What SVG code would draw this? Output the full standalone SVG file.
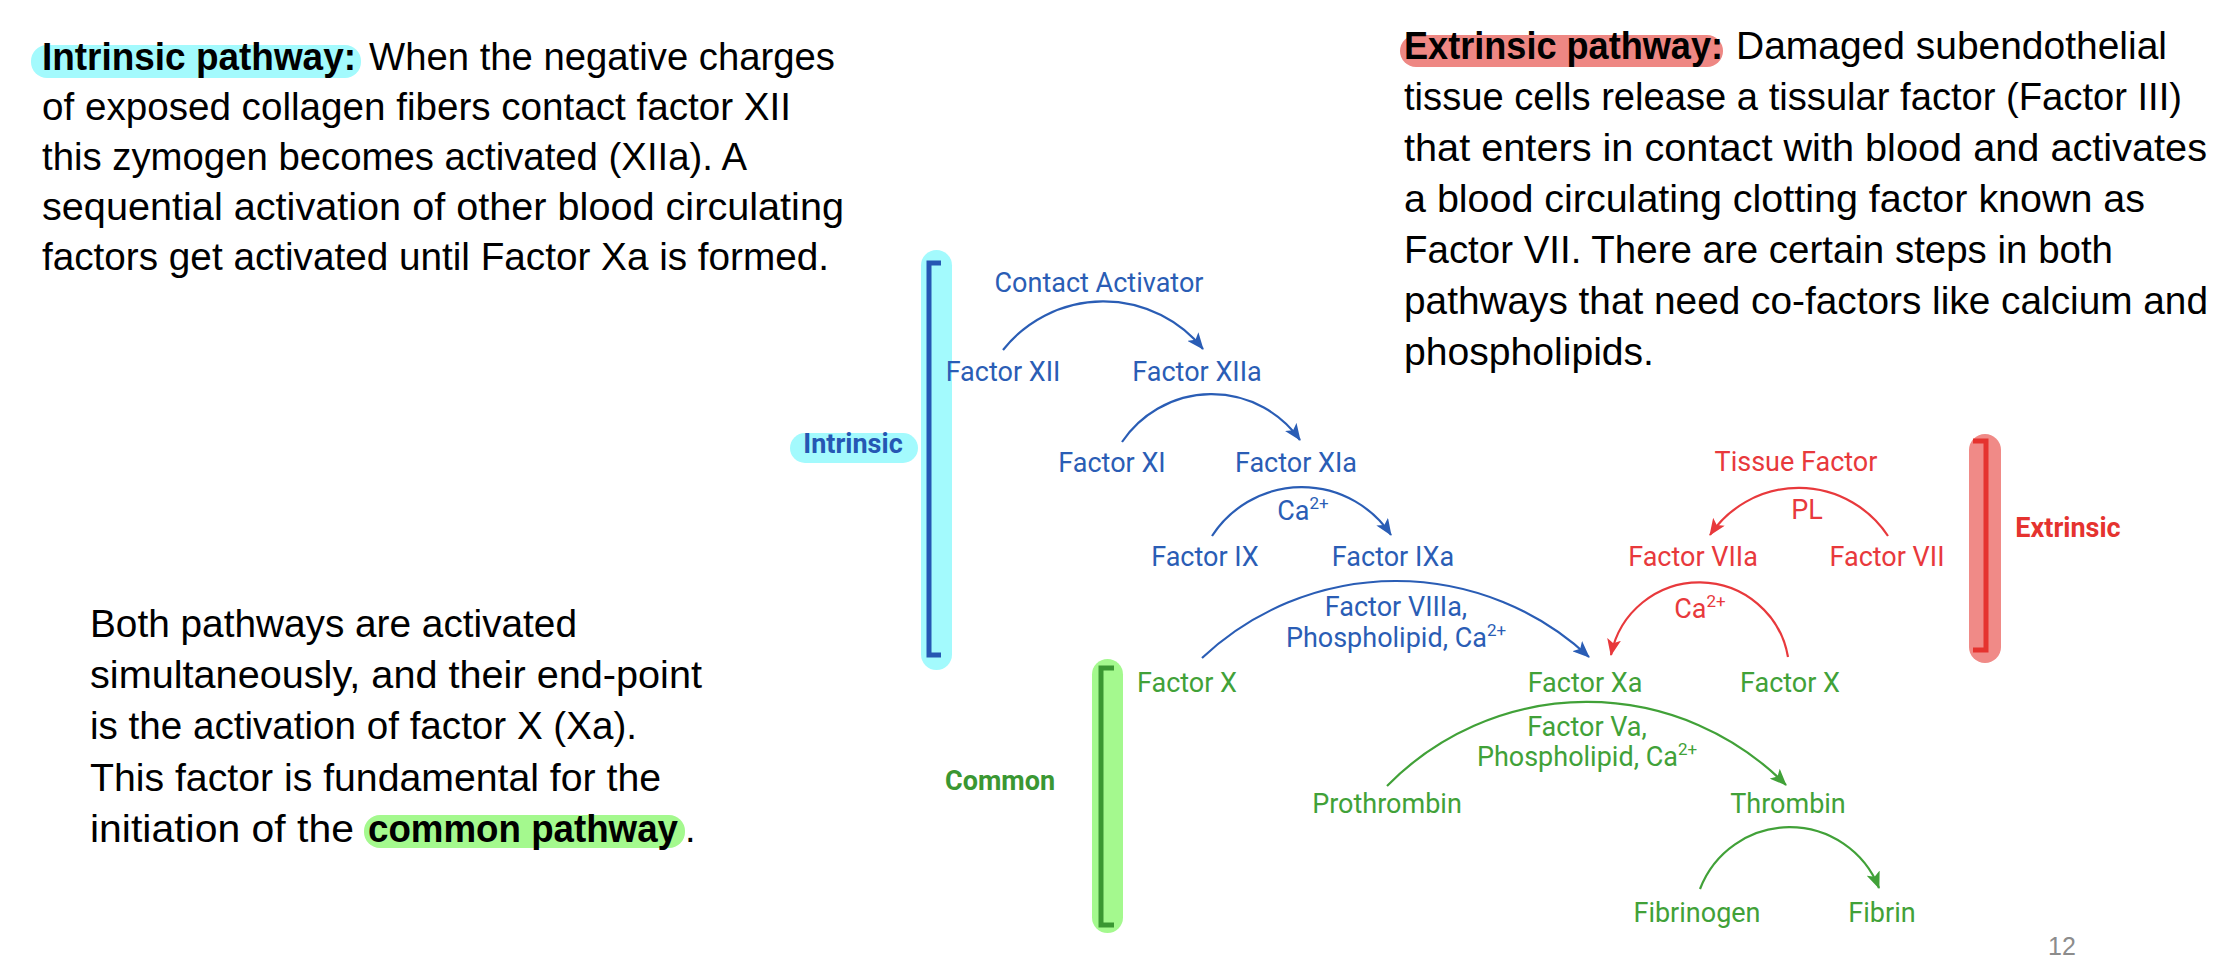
<svg xmlns="http://www.w3.org/2000/svg" width="2218" height="958" viewBox="0 0 2218 958">
<defs>
<style>
.body{font-family:"Liberation Sans",Arial,sans-serif;font-size:38px;fill:#000}
.b{font-weight:bold}
.lbl{font-family:Roboto,"Liberation Sans",sans-serif;font-size:27px;text-anchor:middle}
.bl{fill:#2A5DB5}.rd{fill:#E8393C}.gr{fill:#41A138}
.hd{font-weight:bold}
.arc{fill:none;stroke-width:2.2}
.arcB{stroke:#2A5DB5}.arcR{stroke:#E8393C}.arcG{stroke:#41A138}
.br{fill:none;stroke-width:5}
</style>
<marker id="mB" markerUnits="userSpaceOnUse" markerWidth="18" markerHeight="14" viewBox="0 0 18 14" refX="16" refY="7" orient="auto"><path d="M0,0 L17,7 L0,14 L4,7 z" fill="#2A5DB5"/></marker>
<marker id="mR" markerUnits="userSpaceOnUse" markerWidth="18" markerHeight="14" viewBox="0 0 18 14" refX="16" refY="7" orient="auto"><path d="M0,0 L17,7 L0,14 L4,7 z" fill="#E8393C"/></marker>
<marker id="mG" markerUnits="userSpaceOnUse" markerWidth="18" markerHeight="14" viewBox="0 0 18 14" refX="16" refY="7" orient="auto"><path d="M0,0 L17,7 L0,14 L4,7 z" fill="#41A138"/></marker>
</defs>
<rect width="2218" height="958" fill="#fff"/>

<g id="intrinsic-text">
<rect x="31" y="45" width="330" height="33" rx="16" fill="#A3FAFD"/>
<text class="body b" x="42" y="70" textLength="314" lengthAdjust="spacingAndGlyphs">Intrinsic pathway:</text>
<text class="body" x="369" y="70" textLength="466" lengthAdjust="spacingAndGlyphs">When the negative charges</text>
<text class="body" x="42" y="120" textLength="749" lengthAdjust="spacingAndGlyphs">of exposed collagen fibers contact factor XII</text>
<text class="body" x="42" y="170" textLength="705" lengthAdjust="spacingAndGlyphs">this zymogen becomes activated (XIIa). A</text>
<text class="body" x="42" y="220" textLength="802" lengthAdjust="spacingAndGlyphs">sequential activation of other blood circulating</text>
<text class="body" x="42" y="270" textLength="787" lengthAdjust="spacingAndGlyphs">factors get activated until Factor Xa is formed.</text>
</g>

<g id="extrinsic-text">
<rect x="1400" y="35" width="323" height="32" rx="16" fill="#EE8783"/>
<text class="body b" x="1404" y="59" textLength="319" lengthAdjust="spacingAndGlyphs">Extrinsic pathway:</text>
<text class="body" x="1736" y="59" textLength="431" lengthAdjust="spacingAndGlyphs">Damaged subendothelial</text>
<text class="body" x="1404" y="110" textLength="778" lengthAdjust="spacingAndGlyphs">tissue cells release a tissular factor (Factor III)</text>
<text class="body" x="1404" y="161" textLength="803" lengthAdjust="spacingAndGlyphs">that enters in contact with blood and activates</text>
<text class="body" x="1404" y="212" textLength="741" lengthAdjust="spacingAndGlyphs">a blood circulating clotting factor known as</text>
<text class="body" x="1404" y="263" textLength="709" lengthAdjust="spacingAndGlyphs">Factor VII. There are certain steps in both</text>
<text class="body" x="1404" y="314" textLength="804" lengthAdjust="spacingAndGlyphs">pathways that need co-factors like calcium and</text>
<text class="body" x="1404" y="365" textLength="250" lengthAdjust="spacingAndGlyphs">phospholipids.</text>
</g>

<g id="common-text">
<rect x="364" y="815" width="321" height="33" rx="16" fill="#A4F98E"/>
<text class="body" x="90" y="637" textLength="487" lengthAdjust="spacingAndGlyphs">Both pathways are activated</text>
<text class="body" x="90" y="688" textLength="612" lengthAdjust="spacingAndGlyphs">simultaneously, and their end-point</text>
<text class="body" x="90" y="739" textLength="547" lengthAdjust="spacingAndGlyphs">is the activation of factor X (Xa).</text>
<text class="body" x="90" y="791" textLength="571" lengthAdjust="spacingAndGlyphs">This factor is fundamental for the</text>
<text class="body" x="90" y="842" textLength="264" lengthAdjust="spacingAndGlyphs">initiation of the</text>
<text class="body b" x="368" y="842" textLength="310" lengthAdjust="spacingAndGlyphs">common pathway</text>
<text class="body" x="685" y="842">.</text>
</g>

<g id="intrinsic-bar">
<rect x="921" y="250" width="31" height="420" rx="15.5" fill="#A3FAFD"/>
<path class="br" d="M941,263 H929 V655 H941" stroke="#2557B3"/>
</g>
<g id="intrinsic-label">
<rect x="790" y="433" width="128" height="30" rx="15" fill="#A3FAFD"/>
<text class="lbl hd" x="853" y="453" fill="#2557B3">Intrinsic</text>
</g>

<g id="extrinsic-bar">
<rect x="1969" y="434" width="32" height="229" rx="16" fill="#F08A87"/>
<path class="br" d="M1973,441 H1986 V650 H1973" stroke="#E5332F"/>
</g>
<g id="extrinsic-label"><text class="lbl hd" x="2068" y="537" fill="#E5332F">Extrinsic</text></g>

<g id="common-bar">
<rect x="1092" y="659" width="31" height="274" rx="15.5" fill="#A4F98E"/>
<path class="br" d="M1114,668 H1101 V925 H1114" stroke="#3A9732"/>
</g>
<g id="common-label"><text class="lbl hd" x="1000" y="790" fill="#3A9732">Common</text></g>

<g id="connectors">
<path class="arc arcB" d="M1003,350 A128,128 0 0 1 1203,349" marker-end="url(#mB)"/>
<path class="arc arcB" d="M1122,442 A108,108 0 0 1 1300,440" marker-end="url(#mB)"/>
<path class="arc arcB" d="M1212,536 A107,107 0 0 1 1391,535" marker-end="url(#mB)"/>
<path class="arc arcB" d="M1202,658 A283,283 0 0 1 1589,657" marker-end="url(#mB)"/>
<path class="arc arcR" d="M1788,657 A90,90 0 0 0 1611,655" marker-end="url(#mR)"/>
<path class="arc arcR" d="M1888,536 A107,107 0 0 0 1710,535" marker-end="url(#mR)"/>
<path class="arc arcG" d="M1387,786 A280,280 0 0 1 1786,785" marker-end="url(#mG)"/>
<path class="arc arcG" d="M1700,889 A96,96 0 0 1 1879,888" marker-end="url(#mG)"/>
</g>

<g id="contact-activator"><text class="lbl bl" x="1099" y="292">Contact Activator</text></g>
<g id="factor-xii"><text class="lbl bl" x="1003" y="381">Factor XII</text></g>
<g id="factor-xiia"><text class="lbl bl" x="1197" y="381">Factor XIIa</text></g>
<g id="factor-xi"><text class="lbl bl" x="1112" y="472">Factor XI</text></g>
<g id="factor-xia"><text class="lbl bl" x="1296" y="472">Factor XIa</text></g>
<g id="ca-1"><text class="lbl bl" x="1303" y="520">Ca<tspan font-size="17" dy="-11">2+</tspan></text></g>
<g id="factor-ix"><text class="lbl bl" x="1205" y="566">Factor IX</text></g>
<g id="factor-ixa"><text class="lbl bl" x="1393" y="566">Factor IXa</text></g>
<g id="cofactor-viiia">
<text class="lbl bl" x="1396" y="616">Factor VIIIa,</text>
<text class="lbl bl" x="1396" y="647">Phospholipid, Ca<tspan font-size="17" dy="-11">2+</tspan></text>
</g>
<g id="tissue-factor"><text class="lbl rd" x="1796" y="471">Tissue Factor</text></g>
<g id="pl"><text class="lbl rd" x="1807" y="519">PL</text></g>
<g id="factor-viia"><text class="lbl rd" x="1693" y="566">Factor VIIa</text></g>
<g id="factor-vii"><text class="lbl rd" x="1887" y="566">Factor VII</text></g>
<g id="ca-2"><text class="lbl rd" x="1700" y="618">Ca<tspan font-size="17" dy="-11">2+</tspan></text></g>
<g id="factor-x-left"><text class="lbl gr" x="1187" y="692">Factor X</text></g>
<g id="factor-xa"><text class="lbl gr" x="1585" y="692">Factor Xa</text></g>
<g id="factor-x-right"><text class="lbl gr" x="1790" y="692">Factor X</text></g>
<g id="cofactor-va">
<text class="lbl gr" x="1587" y="736">Factor Va,</text>
<text class="lbl gr" x="1587" y="766">Phospholipid, Ca<tspan font-size="17" dy="-11">2+</tspan></text>
</g>
<g id="prothrombin"><text class="lbl gr" x="1387" y="813">Prothrombin</text></g>
<g id="thrombin"><text class="lbl gr" x="1788" y="813">Thrombin</text></g>
<g id="fibrinogen"><text class="lbl gr" x="1697" y="922">Fibrinogen</text></g>
<g id="fibrin"><text class="lbl gr" x="1882" y="922">Fibrin</text></g>

<g id="page-number"><text x="2062" y="955" font-family="'Liberation Sans',sans-serif" font-size="25" fill="#8C8C8C" text-anchor="middle">12</text></g>
</svg>
